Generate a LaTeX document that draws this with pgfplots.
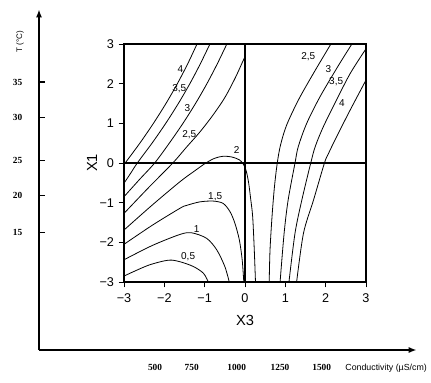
\documentclass[border=0pt]{standalone}
\usepackage{fontspec}
\setmainfont{Liberation Sans}
\newfontfamily\tnr{Liberation Serif}
\usepackage{pgfplots}
\pgfplotsset{compat=1.18}
\usetikzlibrary{arrows.meta}
\pgfplotsset{cl/.style={black, line width=0.6pt, smooth, tension=0.5, no markers}}
\begin{document}
\begin{tikzpicture}
\useasboundingbox (0,0) rectangle (323.25pt,286.5pt);
% outer axis
\begin{axis}[
  at={(29.25pt,24pt)}, anchor=south west,
  scale only axis, width=283.3pt, height=255.5pt,
  xmin=0, xmax=377.7, ymin=0, ymax=340.7,
  axis lines=left,
  axis line style={line width=1.3pt, -{Latex[length=6pt,width=4.5pt]}},
  clip=false,
  xtick={116,152.7,197.7,241,282.7},
  xticklabels={500,750,1000,1250,1500},
  xtick style={draw=none},
  xticklabel style={font=\tnr\bfseries\fontsize{7}{8}\selectfont, anchor=base, yshift=-15pt},
  ytick={117.7,154.3,189.3,232.7,268},
  yticklabels={15,20,25,30,35},
  ytick style={line width=1pt, black},
  tick align=inside,
  major tick length=4.5pt,
  yticklabel style={font=\tnr\bfseries\fontsize{7}{8}\selectfont, xshift=-9pt},
]
\node[anchor=base west, font=\fontsize{6.6}{7}\selectfont, yshift=-15pt] at (axis cs:301.7,0) {Conductivity (µS/cm)};
\node[rotate=90, font=\fontsize{6}{7}\selectfont] at (axis cs:-19,308) {T (°C)};
\end{axis}
% inner contour axis
\begin{axis}[
  at={(93pt,75pt)}, anchor=south west,
  scale only axis, width=181.5pt, height=178.5pt,
  xmin=-3, xmax=3, ymin=-3, ymax=3,
  axis line style={line width=0.9pt},
  xtick={-3,-2,-1,0,1,2,3}, ytick={-3,-2,-1,0,1,2,3},
  xticklabels={−3,−2,−1,0,1,2,3}, yticklabels={−3,−2,−1,0,1,2,3},
  xtick pos=bottom, ytick pos=left,
  tick align=outside, major tick length=4pt,
  tick style={line width=0.7pt, black},
  ticklabel style={font=\fontsize{9.5}{10}\selectfont},
  xticklabel style={yshift=-1.5pt},
  xlabel={X3}, ylabel={X1},
  label style={font=\fontsize{11}{12}\selectfont},
  xlabel style={at={(axis description cs:0.5,-0.16)}, anchor=center},
  ylabel style={at={(axis description cs:-0.132,0.5)}, anchor=center},
]
% thick reference lines
\addplot[black, line width=1.6pt] coordinates {(0,-3) (0,3)};
\addplot[black, line width=1.6pt] coordinates {(-3,0) (3,0)};
% left-hand contours
\addplot[cl] coordinates {(-3,-0.06) (-2.97,0) (-2.607,0.5) (-2.27,1) (-1.96,1.5) (-1.677,2) (-1.421,2.5) (-1.19,3)};
\addplot[cl] coordinates {(-3,-0.51) (-2.83,-0.25) (-2.67,0) (-2.305,0.5) (-1.965,1) (-1.653,1.5) (-1.367,2) (-1.108,2.5) (-0.87,3)};
\addplot[cl] coordinates {(-3,-0.85) (-2.62,-0.42) (-2.24,0) (-1.877,0.5) (-1.538,1) (-1.227,1.5) (-0.944,2) (-0.687,2.5) (-0.45,3)};
\addplot[cl] coordinates {(-3,-1.27) (-2.4,-0.63) (-1.79,0) (-1.45,0.4) (-1.12,0.78) (-0.80,1.2) (-0.50,1.65) (-0.24,2.15) (-0.06,2.55) (0,2.68)};
\addplot[cl] coordinates {(-3,-1.69) (-2.3,-1.06) (-1.61,-0.47) (-1.25,-0.2) (-0.97,0) (-0.75,0.12) (-0.54,0.17) (-0.32,0.15) (-0.14,0.08) (-0.04,-0.03) (0.03,-0.2) (0.09,-0.5) (0.14,-0.9) (0.19,-1.35) (0.23,-2.19) (0.26,-3)};
\addplot[cl] coordinates {(-3,-2.05) (-2.3,-1.57) (-1.61,-1.14) (-1.45,-1.07) (-1.12,-0.98) (-0.79,-0.96) (-0.54,-1.02) (-0.37,-1.23) (-0.25,-1.52) (-0.14,-1.94) (-0.07,-2.44) (-0.03,-3)};
\addplot[cl] coordinates {(-3,-2.44) (-2.3,-2.08) (-1.61,-1.80) (-1.32,-1.76) (-0.95,-1.90) (-0.70,-2.19) (-0.50,-2.61) (-0.39,-3)};
\addplot[cl] coordinates {(-3,-2.85) (-2.4,-2.58) (-1.9,-2.45) (-1.61,-2.49) (-1.28,-2.61) (-1.03,-2.78) (-0.91,-3)};
% right-hand contours
\addplot[cl] coordinates {(0.60,-3) (0.62,-2.2) (0.67,-1.35) (0.73,-0.6) (0.80,0) (0.88,0.45) (1.03,0.95) (1.33,1.6) (1.72,2.3) (2.13,3)};
\addplot[cl] coordinates {(0.87,-3) (0.97,-1.77) (1.07,-0.93) (1.24,0) (1.32,0.41) (1.53,1.0) (1.86,1.67) (2.30,2.43) (2.65,3)};
\addplot[cl] coordinates {(1.09,-3) (1.24,-1.77) (1.41,-0.93) (1.63,0) (1.74,0.41) (1.94,0.91) (2.27,1.59) (2.61,2.26) (3,2.88)};
\addplot[cl] coordinates {(1.28,-3) (1.45,-1.77) (1.70,-0.93) (1.97,0) (2.07,0.24) (2.27,0.66) (2.61,1.34) (3,2.09)};
% contour labels
\begin{scope}[every node/.style={font=\fontsize{7.5}{8}\selectfont, inner sep=0.5pt}]
\node at (axis cs:-1.60,2.38) {4};
\node at (axis cs:-1.63,1.88) {3,5};
\node at (axis cs:-1.43,1.38) {3};
\node at (axis cs:-1.38,0.71) {2,5};
\node at (axis cs:-0.21,0.33) {2};
\node at (axis cs:-0.74,-0.85) {1,5};
\node at (axis cs:-1.20,-1.67) {1};
\node at (axis cs:-1.41,-2.36) {0,5};
\node at (axis cs:1.57,2.68) {2,5};
\node at (axis cs:2.07,2.36) {3};
\node at (axis cs:2.26,2.05) {3,5};
\node at (axis cs:2.40,1.50) {4};
\end{scope}
\end{axis}
\end{tikzpicture}
\end{document}
